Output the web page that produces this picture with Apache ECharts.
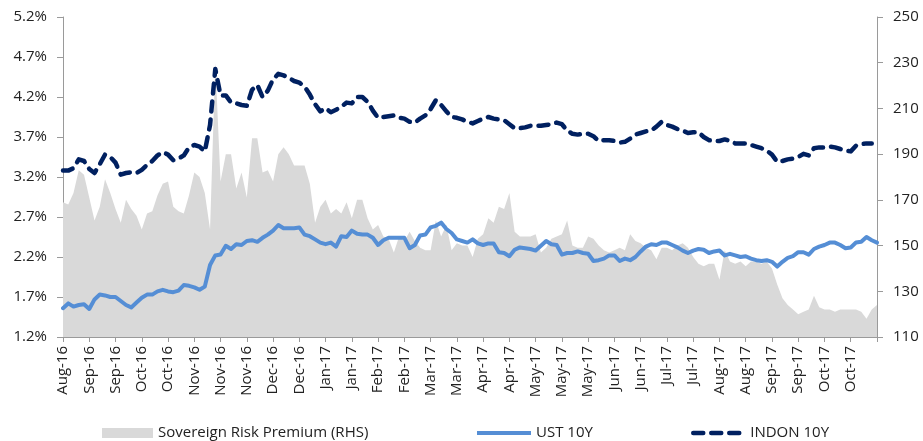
<!DOCTYPE html>
<html><head><meta charset="utf-8">
<script src="https://cdn.jsdelivr.net/npm/echarts@6/dist/echarts.min.js"></script>
<style>html,body{margin:0;padding:0;background:#fff}#c{width:923px;height:441px}</style>
</head><body><div id="c"></div>
<script>
const tickLabels = ["Aug-16","Sep-16","Sep-16","Oct-16","Oct-16","Nov-16","Nov-16","Nov-16","Dec-16","Dec-16","Jan-17","Jan-17","Feb-17","Feb-17","Mar-17","Mar-17","Apr-17","Apr-17","May-17","May-17","May-17","Jun-17","Jun-17","Jul-17","Jul-17","Aug-17","Aug-17","Sep-17","Sep-17","Oct-17","Oct-17"];
const leftTicks = [1.2,1.7,2.2,2.7,3.2,3.7,4.2,4.7,5.2];
const rightTicks = [110,130,150,170,190,210,230,250];

const premium = [169,168,173,183,181,171,161,167,179,173,166,160,170,166,163,157,164,165,172,177,
178,167,165,164,172,182,180,173,157,230,178,190,190,175,182,171,197,197,182,183,
178,190,193,190,185,185,185,177,160,167,170,164,166,164,169,162,170,170,162,157,
159,154,153,147,154,152,156,152,149,148,148,161,154,159,148,151,150,150,145,153,
155,162,160,167,166,173,156,154,154,154,155,147,149,153,154,155,161,150,149,149,
154,153,150,148,147,148,149,148,155,152,151,149,148,144,149,149,148,150,151,149,
145,142,141,142,142,135,148,143,142,143,141,143,143,142,143,140,133,127,124,122,
120,121,122,128,123,122,122,121,122,122,122,122,121,118,122,124];

const ust = [1.56,1.62,1.58,1.60,1.61,1.55,1.67,1.73,1.72,1.70,1.70,1.65,1.60,1.57,1.63,1.69,1.73,1.73,1.77,1.79,
1.77,1.76,1.78,1.85,1.84,1.82,1.79,1.83,2.10,2.22,2.23,2.34,2.30,2.36,2.35,2.40,2.41,2.39,2.44,2.48,
2.53,2.60,2.56,2.56,2.56,2.57,2.48,2.46,2.42,2.38,2.36,2.38,2.33,2.46,2.45,2.53,2.49,2.48,2.48,2.44,
2.35,2.41,2.44,2.44,2.44,2.44,2.31,2.35,2.47,2.48,2.57,2.59,2.63,2.55,2.50,2.42,2.40,2.38,2.42,2.37,
2.35,2.37,2.37,2.26,2.25,2.21,2.29,2.32,2.31,2.30,2.28,2.34,2.40,2.36,2.35,2.23,2.25,2.25,2.27,2.25,
2.24,2.15,2.16,2.18,2.22,2.22,2.15,2.18,2.16,2.20,2.27,2.33,2.36,2.35,2.38,2.38,2.35,2.32,2.28,2.25,
2.28,2.30,2.29,2.25,2.27,2.28,2.22,2.24,2.22,2.20,2.21,2.18,2.16,2.15,2.16,2.14,2.08,2.14,2.19,2.21,
2.26,2.26,2.23,2.30,2.33,2.35,2.38,2.38,2.35,2.31,2.32,2.38,2.39,2.45,2.41,2.38];

const indon = [3.28,3.28,3.31,3.42,3.40,3.30,3.25,3.36,3.48,3.45,3.38,3.23,3.25,3.26,3.25,3.29,3.35,3.40,3.47,3.51,
3.48,3.41,3.43,3.47,3.57,3.60,3.58,3.52,3.85,4.55,4.22,4.22,4.13,4.12,4.10,4.09,4.29,4.35,4.20,4.28,
4.42,4.49,4.47,4.44,4.40,4.38,4.33,4.23,4.11,4.02,4.06,4.01,4.04,4.08,4.13,4.12,4.20,4.20,4.14,4.03,
3.94,3.95,3.96,3.97,3.94,3.93,3.89,3.88,3.93,3.97,4.05,4.16,4.10,4.02,3.95,3.94,3.92,3.89,3.87,3.90,
3.93,3.95,3.93,3.92,3.91,3.86,3.81,3.81,3.82,3.84,3.84,3.84,3.85,3.86,3.88,3.86,3.78,3.74,3.73,3.74,
3.74,3.71,3.65,3.66,3.66,3.65,3.63,3.64,3.68,3.73,3.75,3.77,3.78,3.83,3.89,3.85,3.83,3.80,3.78,3.75,
3.76,3.76,3.70,3.66,3.65,3.65,3.67,3.65,3.62,3.62,3.62,3.60,3.58,3.56,3.53,3.48,3.39,3.40,3.42,3.43,
3.45,3.49,3.47,3.56,3.57,3.57,3.58,3.57,3.55,3.53,3.52,3.59,3.61,3.62,3.62,null];

const categories = premium.map((_, i) => String(i));
const FONT = 'Open Sans';
const TXT = '#222';
const AX = '#9a9a9a';
const legendText = {fontFamily: FONT, fontSize: 15, color: TXT, lineHeight: 18};

const chart = echarts.init(document.getElementById('c'), null, {renderer: 'canvas'});
chart.setOption({
  animation: false,
  backgroundColor: '#fff',
  textStyle: {fontFamily: FONT},
  grid: {left: 63, right: 46, top: 17, bottom: 104, containLabel: false},
  legend: [
    {data: ['Sovereign Risk Premium (RHS)'], left: 97, top: 419, icon: 'rect', itemWidth: 51, itemHeight: 10,
     itemStyle: {color: '#D9D9D9', borderWidth: 0}, textStyle: legendText},
    {data: ['UST 10Y'], left: 470, top: 419, itemWidth: 54, itemHeight: 10,
     itemStyle: {opacity: 0},
     lineStyle: {width: 4, color: '#558ED5', type: 'solid', cap: 'butt'},
     textStyle: legendText},
    {data: ['INDON 10Y'], left: 686, top: 419, itemWidth: 52, itemHeight: 10,
     itemStyle: {opacity: 0},
     lineStyle: {width: 4.5, color: '#002060', type: [10, 8], cap: 'round'},
     textStyle: legendText}
  ],
  xAxis: {
    type: 'category', data: categories, boundaryGap: false,
    axisLine: {show: true, lineStyle: {color: AX, width: 1}},
    axisTick: {show: true, interval: 4, length: 5, lineStyle: {color: AX}},
    axisLabel: {interval: 4, rotate: 90, margin: 9, fontFamily: FONT, fontSize: 15, color: TXT,
      formatter: (v, idx) => (idx % 5 === 0 ? tickLabels[idx / 5] : '')},
    splitLine: {show: false}
  },
  yAxis: [
    {type: 'value', position: 'left', min: 1.2, max: 5.2,
     axisLine: {show: true, lineStyle: {color: AX, width: 1}},
     axisTick: {show: true, length: 6, customValues: leftTicks, lineStyle: {color: AX}},
     axisLabel: {customValues: leftTicks, margin: 16, fontFamily: FONT, fontSize: 15, color: TXT,
       formatter: v => v.toFixed(1) + '%'},
     splitLine: {show: false}},
    {type: 'value', position: 'right', min: 110, max: 250,
     axisLine: {show: true, lineStyle: {color: AX, width: 1}},
     axisTick: {show: true, length: 6, customValues: rightTicks, lineStyle: {color: AX}},
     axisLabel: {customValues: rightTicks, margin: 16, fontFamily: FONT, fontSize: 15, color: TXT,
       formatter: v => String(v)},
     splitLine: {show: false}}
  ],
  series: [
    {name: 'Sovereign Risk Premium (RHS)', type: 'line', yAxisIndex: 1, data: premium,
     symbol: 'none', color: '#D9D9D9', lineStyle: {width: 0, color: '#D9D9D9'},
     areaStyle: {color: '#D9D9D9', opacity: 1, origin: 'start'}, z: 1},
    {name: 'UST 10Y', type: 'line', yAxisIndex: 0, data: ust, symbol: 'none', color: '#558ED5',
     lineStyle: {width: 4, color: '#558ED5', join: 'round', cap: 'round'}, z: 2},
    {name: 'INDON 10Y', type: 'line', yAxisIndex: 0, data: indon, symbol: 'none', color: '#002060',
     lineStyle: {width: 4.5, color: '#002060', type: [10, 8], cap: 'round', join: 'round'}, z: 3}
  ]
});
</script>
</body></html>
